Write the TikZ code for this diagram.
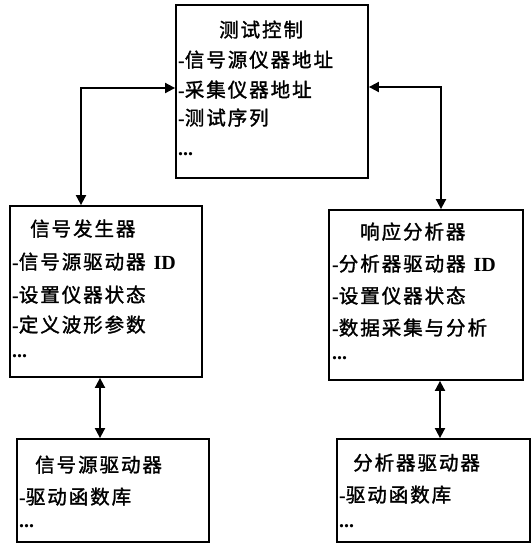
\documentclass[tikz,border=0pt]{standalone}
\usepackage{fontspec}
\setmainfont{Liberation Serif}
\newfontfamily\cjk[FakeBold=1.5,LetterSpace=10.0]{Noto Sans CJK SC}
\usetikzlibrary{arrows.meta}
\tikzset{
  box/.style={draw, line width=1.8pt, inner sep=0pt},
  txt/.style={anchor=base west, inner sep=0pt, font=\fontsize{20}{24}\selectfont\bfseries},
  arr/.style={line width=1.8pt, {Triangle[length=10pt,width=10pt]}-{Triangle[length=10pt,width=10pt]}},
}
\newcommand{\C}[1]{{\cjk\mdseries\fontsize{19.5}{24}\selectfont #1}}
\begin{document}
\begin{tikzpicture}[x=1pt,y=-1pt]
\useasboundingbox (0,0) rectangle (531,544);
% boxes
\node[box, minimum width=192pt, minimum height=173pt] (top) at (272,91.5) {};
\node[box, minimum width=192pt, minimum height=171pt] (left) at (106,291.5) {};
\node[box, minimum width=194pt, minimum height=170pt] (right) at (426,295) {};
\node[box, minimum width=192pt, minimum height=103pt] (bl) at (113,490.5) {};
\node[box, minimum width=193pt, minimum height=103pt] (br) at (433.5,490.5) {};
% top box text
\node[txt] (t0) at (219,37) {\C{测试控制}};
\node[txt] (t1) at (178,67) {-\C{信号源仪器地址}};
\node[txt] (t2) at (178,97) {-\C{采集仪器地址}};
\node[txt] (t3) at (178,125) {-\C{测试序列}};
\node[txt] (t4) at (178,155) {...};
% left box text
\node[txt] (l0) at (30,236) {\C{信号发生器}};
\node[txt] (l1) at (12,269) {-\C{信号源驱动器}\hspace{8pt}ID};
\node[txt] (l2) at (12,302) {-\C{设置仪器状态}};
\node[txt] (l3) at (12,332) {-\C{定义波形参数}};
\node[txt] (l4) at (12,357) {...};
% right box text
\node[txt] (r0) at (360,239) {\C{响应分析器}};
\node[txt] (r1) at (332,271) {-\C{分析器驱动器}\hspace{8pt}ID};
\node[txt] (r2) at (332,303) {-\C{设置仪器状态}};
\node[txt] (r3) at (332,335) {-\C{数据采集与分析}};
\node[txt] (r4) at (332,359) {...};
% bottom left text
\node[txt] (b0) at (35,472) {\C{信号源驱动器}};
\node[txt] (b1) at (19,504) {-\C{驱动函数库}};
\node[txt] (b2) at (19,527) {...};
% bottom right text
\node[txt] (c0) at (353,470) {\C{分析器驱动器}};
\node[txt] (c1) at (339,502) {-\C{驱动函数库}};
\node[txt] (c2) at (339,527) {...};
% connectors
\coordinate (ka) at (81,88);
\coordinate (kb) at (441,87);
\coordinate (va) at (100,0);
\coordinate (vb) at (440,0);
\draw[arr] (top.west |- ka) -- (ka) -- (left.north -| ka);
\draw[arr] (top.east |- kb) -- (kb) -- (right.north -| kb);
\draw[arr] (left.south -| va) -- (bl.north -| va);
\draw[arr] (right.south -| vb) -- (br.north -| vb);
\end{tikzpicture}
\end{document}
